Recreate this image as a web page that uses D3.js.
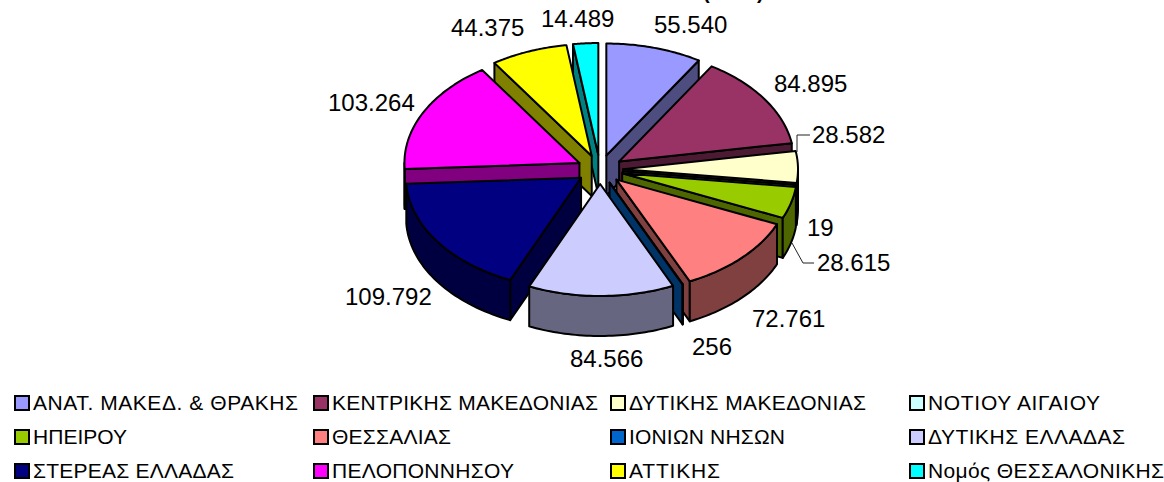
<!DOCTYPE html>
<html>
<head>
<meta charset="utf-8">
<script src="https://cdn.jsdelivr.net/npm/d3@7"></script>
<style>
  html, body { margin: 0; padding: 0; background: #fff; overflow: hidden; }
  text { font-family: "Liberation Sans", Arial, sans-serif; fill: #000; }
</style>
</head>
<body>
<svg id="svg" width="1164" height="482"></svg>
<script>
const regions = ['ΑΝΑΤ. ΜΑΚΕΔ. & ΘΡΑΚΗΣ', 'ΚΕΝΤΡΙΚΗΣ ΜΑΚΕΔΟΝΙΑΣ', 'ΔΥΤΙΚΗΣ ΜΑΚΕΔΟΝΙΑΣ', 'ΝΟΤΙΟΥ ΑΙΓΑΙΟΥ',
  'ΗΠΕΙΡΟΥ', 'ΘΕΣΣΑΛΙΑΣ', 'ΙΟΝΙΩΝ ΝΗΣΩΝ', 'ΔΥΤΙΚΗΣ ΕΛΛΑΔΑΣ',
  'ΣΤΕΡΕΑΣ ΕΛΛΑΔΑΣ', 'ΠΕΛΟΠΟΝΝΗΣΟΥ', 'ΑΤΤΙΚΗΣ', 'Νομός ΘΕΣΣΑΛΟΝΙΚΗΣ']
const values = [55540, 84895, 28582, 19, 28615, 72761, 256, 84566, 109792, 103264, 44375, 14489]
const labels = ['55.540', '84.895', '28.582', '19', '28.615', '72.761', '256', '84.566', '109.792', '103.264', '44.375', '14.489']
const colours = ['#9999ff', '#993366', '#ffffcc', '#ccffff', '#99cc00', '#ff8080', '#0066cc', '#ccccff', '#000080', '#ff00ff', '#ffff00', '#00ffff']

// where each value label sits (left edge, baseline), same order as labels
const labelX = [654, 774, 812, 807, 817, 752, 692, 570, 345, 328, 451, 541]
const labelY = [33, 92, 143, 236, 271, 327, 355, 367, 305, 111, 36, 27]

// legend text widths as they come out in the picture
const legendWidths = [265, 266, 237, 172, 94, 119, 156, 197, 201, 182, 91, 236]

const cx = 600, cy = 169.5, rx = 175, ry = 112, depth = 40
const explodeX = 23, explodeY = 14.5

const svg = d3.select('#svg')

const pie = d3.pie().sort(null)
const slices = pie(values).map((d, i) => {
  const mid = (d.startAngle + d.endAngle) / 2
  return {
    ...d,
    i,
    mid,
    ox: cx + explodeX * Math.sin(mid),
    oy: cy - explodeY * Math.cos(mid)
  }
})

const rim = (s, a, drop = 0) => [s.ox + rx * Math.sin(a), s.oy - ry * Math.cos(a) + drop]
const arcPoints = (s, a0, a1, drop = 0) => d3.range(0, 41).map(k => rim(s, a0 + (a1 - a0) * k / 40, drop))
const closed = d3.line()
const darken = c => { const r = d3.rgb(c); return d3.rgb(r.r / 2, r.g / 2, r.b / 2).formatHex() }

// back slices first so the front ones paint over them
const order = slices.slice().sort((a, b) => Math.cos(b.mid) - Math.cos(a.mid))

const groups = svg.selectAll('g.slice')
  .data(order)
  .enter()
  .append('g')
  .attr('class', 'slice')
  .attr('stroke', '#000')
  .attr('stroke-width', 2)
  .attr('stroke-linejoin', 'round')

// side faces
groups.each(function (s) {
  const g = d3.select(this)
  const faces = []
  if (s.startAngle > Math.PI) faces.push(s.startAngle)
  if (s.endAngle < Math.PI) faces.push(s.endAngle)
  faces.forEach(a => {
    g.append('path')
      .attr('fill', darken(colours[s.i]))
      .attr('d', closed([[s.ox, s.oy], [s.ox, s.oy + depth], rim(s, a, depth), rim(s, a)]) + 'Z')
  })
  // outer wall, only the part facing the front
  const a0 = Math.max(s.startAngle, Math.PI / 2)
  const a1 = Math.min(s.endAngle, Math.PI * 1.5)
  if (a1 > a0) {
    g.append('path')
      .attr('fill', darken(colours[s.i]))
      .attr('d', closed([...arcPoints(s, a0, a1), ...arcPoints(s, a1, a0, depth)]) + 'Z')
  }
})

// top faces
groups.append('path')
  .attr('fill', s => colours[s.i])
  .attr('d', s => closed([[s.ox, s.oy], ...arcPoints(s, s.startAngle, s.endAngle)]) + 'Z')

// leader lines
const leaders = [
  [[797, 152], [797, 135], [810, 135]],
  [[792, 243], [803, 263], [814, 263]]
]
svg.selectAll('path.leader')
  .data(leaders)
  .enter()
  .append('path')
  .attr('class', 'leader')
  .attr('d', d => d3.line()(d))
  .attr('fill', 'none')
  .attr('stroke', '#222')
  .attr('stroke-width', 1)

svg.selectAll('text.value')
  .data(labels)
  .enter()
  .append('text')
  .attr('class', 'value')
  .attr('x', (d, i) => labelX[i])
  .attr('y', (d, i) => labelY[i])
  .style('font-size', '24px')
  .text(d => d)

// what is left of the title, cut by the top edge
svg.append('text').attr('x', 703).attr('y', -1).style('font-size', '20px').style('font-weight', 'bold').text('(')
svg.append('text').attr('x', 757).attr('y', -1).style('font-size', '20px').style('font-weight', 'bold').text(')')

// legend
const legendX = [15, 314, 611, 910]
const rowY = d3.scalePoint().domain([0, 1, 2]).range([403, 471])

const legend = svg.selectAll('g.legend')
  .data(regions)
  .enter()
  .append('g')
  .attr('class', 'legend')
  .attr('transform', (d, i) => `translate(${legendX[i % 4]},${rowY(Math.floor(i / 4))})`)

legend.append('rect')
  .attr('x', 0)
  .attr('y', -7)
  .attr('width', 14)
  .attr('height', 14)
  .attr('fill', (d, i) => colours[i])
  .attr('stroke', '#000')
  .attr('stroke-width', 2)

legend.append('text')
  .attr('x', 18)
  .attr('y', 7)
  .attr('textLength', (d, i) => legendWidths[i])
  .attr('lengthAdjust', 'spacing')
  .style('font-size', '21px')
  .text(d => d)
</script>
</body>
</html>
